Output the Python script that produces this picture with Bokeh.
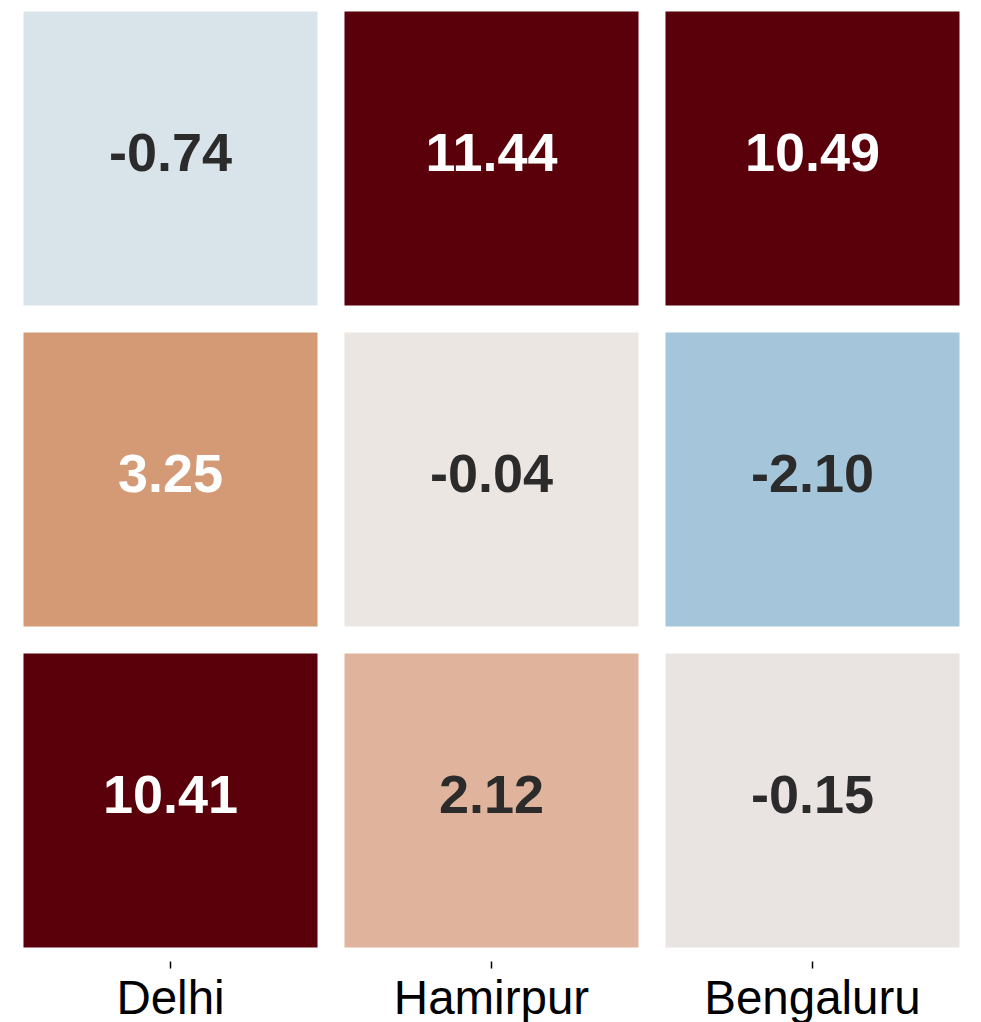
from bokeh.plotting import figure
from bokeh.models import ColumnDataSource, FixedTicker, Range1d
from bokeh.core.properties import value
from bokeh.embed import file_html
from bokeh.resources import INLINE

cities = ["Delhi", "Hamirpur", "Bengaluru"]
row_top = [-0.74, 11.44, 10.49]
row_mid = [3.25, -0.04, -2.10]
row_bot = [10.41, 2.12, -0.15]

fill_top = ["#d8e4ea", "#5a000b", "#5a000b"]
fill_mid = ["#d49a76", "#ebe6e2", "#a5c6da"]
fill_bot = ["#5a000b", "#e0b49c", "#e9e4e1"]

rows = [row_top, row_mid, row_bot]
fills = [fill_top, fill_mid, fill_bot]
row_pos = [3, 2, 1]

xs, ys, vals, cols, tcols, labels = [], [], [], [], [], []
for r, vrow, frow in zip(row_pos, rows, fills):
    for i, (v, c) in enumerate(zip(vrow, frow)):
        xs.append(i + 1)
        ys.append(r)
        vals.append(v)
        cols.append(c)
        tcols.append("#ffffff" if v > 3 else "#2b2b2b")
        labels.append(f"{v:.2f}")

src = ColumnDataSource(dict(x=xs, y=ys, v=vals, c=cols, tc=tcols, lab=labels))

p = figure(frame_width=965, frame_height=953, output_backend="svg",
           toolbar_location=None, x_range=Range1d(0.4953, 3.5016),
           y_range=Range1d(0.4984, 3.4673), min_border=0,
           min_border_left=8, min_border_top=8)
p.rect(x="x", y="y", width=0.916, height=0.916, fill_color="c", line_color=None, source=src)
p.text(x="x", y="y", text="lab", text_color="tc", text_align="center", text_baseline="middle",
       y_offset=-6,
       text_font=value("Liberation Sans"), text_font_style="bold", text_font_size="54px", source=src)

p.yaxis.visible = False
p.grid.visible = False
p.outline_line_color = None
p.xaxis.ticker = FixedTicker(ticks=[1, 2, 3])
p.xaxis.major_label_overrides = {i + 1: c for i, c in enumerate(cities)}
p.xaxis.axis_line_color = None
p.xaxis.minor_tick_line_color = None
p.xaxis.major_tick_in = 0
p.xaxis.major_tick_out = 7
p.xaxis.major_tick_line_color = "#000000"
p.xaxis.major_tick_line_width = 1.5
p.xaxis.major_label_standoff = 2
p.xaxis.major_label_text_font = "Liberation Sans"
p.xaxis.major_label_text_font_size = "47.5px"
p.xaxis.major_label_text_color = "#000000"

open("out.html", "w").write(file_html(p, INLINE))
